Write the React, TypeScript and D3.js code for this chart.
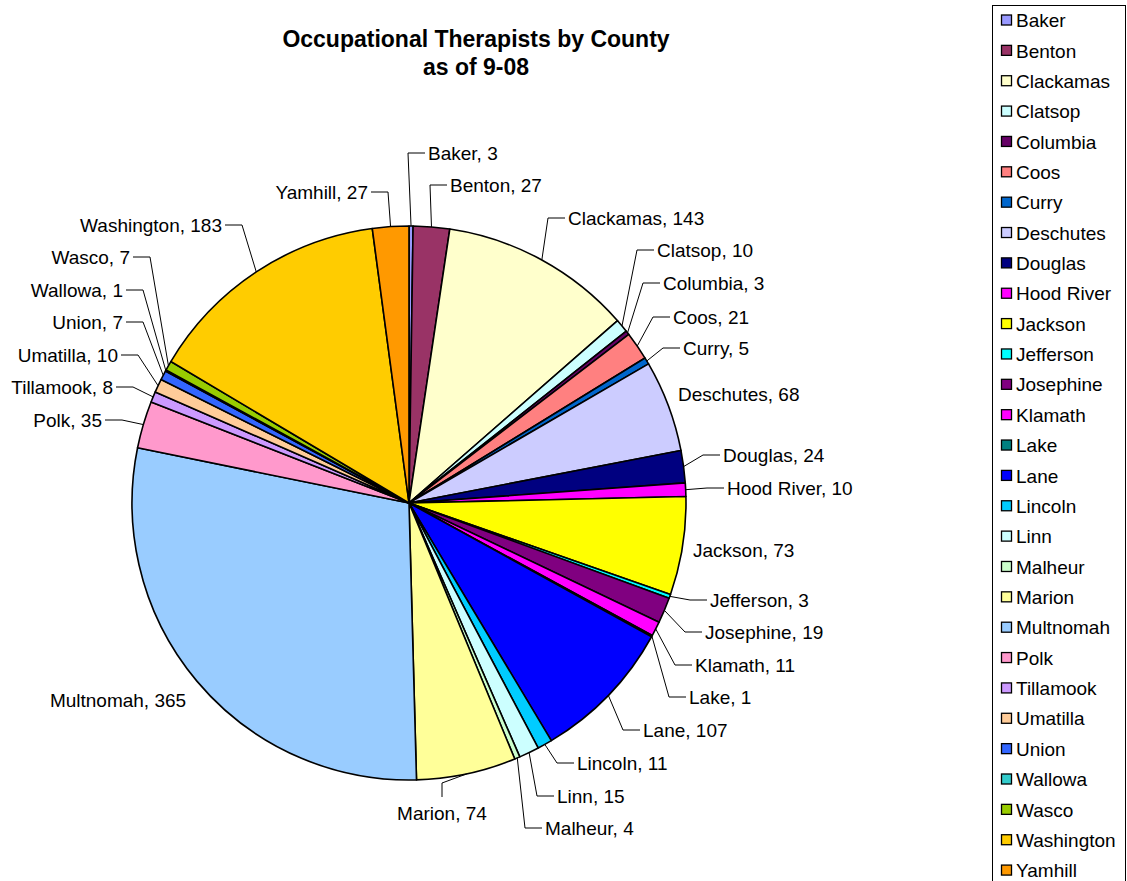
import React from "react";
import * as d3 from "d3";

const counties = [
  "Baker", "Benton", "Clackamas", "Clatsop", "Columbia", "Coos", "Curry", "Deschutes",
  "Douglas", "Hood River", "Jackson", "Jefferson", "Josephine", "Klamath", "Lake", "Lane",
  "Lincoln", "Linn", "Malheur", "Marion", "Multnomah", "Polk", "Tillamook", "Umatilla",
  "Union", "Wallowa", "Wasco", "Washington", "Yamhill",
];
const counts = [
  3, 27, 143, 10, 3, 21, 5, 68, 24, 10, 73, 3, 19, 11, 1, 107, 11, 15, 4, 74, 365, 35, 8, 10,
  7, 1, 7, 183, 27,
];
const colors = [
  "#9999FF", "#993366", "#FFFFCC", "#CCFFFF", "#660066", "#FF8080", "#0066CC", "#CCCCFF",
  "#000080", "#FF00FF", "#FFFF00", "#00FFFF", "#800080", "#FF00FF", "#008080", "#0000FF",
  "#00CCFF", "#CCFFFF", "#CCFFCC", "#FFFF99", "#99CCFF", "#FF99CC", "#CC99FF", "#FFCC99",
  "#3366FF", "#33CCCC", "#99CC00", "#FFCC00", "#FF9900",
];
const titleLines = ["Occupational Therapists by County", "as of 9-08"];

// label layout: [x, y, anchor, leader type]
type Lay = [number, number, "start" | "end" | "middle", "side" | "none" | "below"];
const labelLayout: Lay[] = [
  [428, 153, "start", "side"],
  [450, 185, "start", "side"],
  [568, 218, "start", "side"],
  [657, 250, "start", "side"],
  [663, 283, "start", "side"],
  [673, 317, "start", "side"],
  [683, 348, "start", "side"],
  [678, 394, "start", "none"],
  [723, 455, "start", "side"],
  [727, 488, "start", "side"],
  [693, 550, "start", "none"],
  [710, 600, "start", "side"],
  [705, 632, "start", "side"],
  [695, 665, "start", "side"],
  [689, 697, "start", "side"],
  [643, 730, "start", "side"],
  [577, 763, "start", "side"],
  [557, 796, "start", "side"],
  [545, 828, "start", "side"],
  [442, 813, "middle", "below"],
  [118, 700, "middle", "none"],
  [102, 420, "end", "side"],
  [113, 387, "end", "side"],
  [118, 355, "end", "side"],
  [123, 322, "end", "side"],
  [123, 290, "end", "side"],
  [130, 257, "end", "side"],
  [222, 225, "end", "side"],
  [368, 192, "end", "side"],
];

const W = 1127;
const H = 881;
const cx = 409;
const cy = 503;
const R = 277;
const FONT = "'Liberation Sans', Arial, Helvetica, sans-serif";

export default function App() {
  const data = counts.map((v, i) => ({ name: counties[i], value: v, color: colors[i], i }));
  const pie = d3.pie<any>().sort(null).value((d: any) => d.value).startAngle(0).endAngle(2 * Math.PI);
  const arcs = pie(data);
  const arc = d3.arc<any>().innerRadius(0).outerRadius(R);
  const edge = d3.arc<any>().innerRadius(R).outerRadius(R);

  const legendTop = 20.5;
  const legendStep = 30.36;

  return (
    <svg
      width={W}
      height={H}
      style={{ position: "absolute", left: 0, top: 0, display: "block", background: "#fff" }}
      fontFamily={FONT}
    >
      <g>
        {titleLines.map((t, i) => (
          <text
            key={i}
            x={476}
            y={47 + i * 28}
            textAnchor="middle"
            fontSize={23}
            fontWeight="bold"
            fill="#000"
          >
            {t}
          </text>
        ))}
      </g>
      <g transform={`translate(${cx},${cy})`}>
        {arcs.map((a, i) => (
          <path key={i} d={arc(a) as string} fill={a.data.color} stroke="#000" strokeWidth={1.6} strokeLinejoin="round" />
        ))}
      </g>
      <g>
        {arcs.map((a, i) => {
          const [lx, ly, anchor, type] = labelLayout[i];
          const [px0, py0] = edge.centroid(a);
          const px = px0 + cx;
          const py = py0 + cy;
          let line = null;
          if (type === "side") {
            const dir = anchor === "start" ? -1 : 1;
            const ex = lx + dir * 20;
            const tx = lx + dir * 3;
            line = (
              <polyline
                points={`${px},${py} ${ex},${ly} ${tx},${ly}`}
                fill="none"
                stroke="#000"
                strokeWidth={1}
              />
            );
          } else if (type === "below") {
            line = (
              <polyline
                points={`${px},${py} ${lx},${ly - 30} ${lx},${ly - 16}`}
                fill="none"
                stroke="#000"
                strokeWidth={1}
              />
            );
          }
          return (
            <g key={i}>
              {line}
              <text x={lx} y={ly} dy="0.35em" textAnchor={anchor} fontSize={19} fill="#000">
                {`${a.data.name}, ${a.data.value}`}
              </text>
            </g>
          );
        })}
      </g>
      <g>
        <rect x={992.5} y={5.5} width={133} height={900} fill="#fff" stroke="#000" strokeWidth={1} />
        {data.map((d, i) => {
          const y = legendTop + i * legendStep;
          return (
            <g key={i}>
              <rect x={1001.5} y={y - 5.5} width={10} height={10} fill={d.color} stroke="#000" strokeWidth={1.3} />
              <text x={1016} y={y} dy="0.35em" fontSize={19} fill="#000">
                {d.name}
              </text>
            </g>
          );
        })}
      </g>
    </svg>
  );
}
